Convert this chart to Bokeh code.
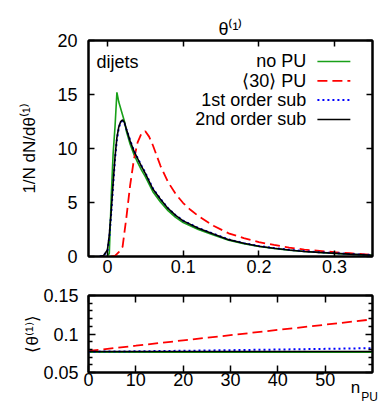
from bokeh.plotting import figure
from bokeh.models import FixedTicker, CustomJSTickFormatter, LinearAxis, Label, Range1d
from bokeh.layouts import column
from bokeh.embed import file_html
from bokeh.resources import INLINE

# ---------------- data ----------------
# top panel: distributions of theta^(1)
x_nopu = [0.0, 0.0025, 0.005, 0.0075, 0.010, 0.0125, 0.015, 0.02, 0.0225, 0.025, 0.03, 0.035, 0.04, 0.045,
          0.05, 0.06, 0.07, 0.08, 0.09, 0.10, 0.12, 0.14, 0.16, 0.18, 0.20, 0.22, 0.24, 0.26, 0.28, 0.30,
          0.32, 0.35]
y_nopu = [0.0, 0.3, 5.5, 9.5, 12.0, 15.2, 14.3, 13.1, 12.5, 11.6, 10.4, 9.45, 8.7, 8.0,
          7.4, 6.0, 5.05, 4.25, 3.62, 3.15, 2.5, 1.98, 1.5, 1.18, 0.92, 0.74, 0.58, 0.46, 0.37, 0.29,
          0.21, 0.11]

x_pu30 = [0.005, 0.01, 0.015, 0.02, 0.025, 0.03, 0.035, 0.04, 0.045, 0.05, 0.055, 0.06, 0.07, 0.08, 0.09,
          0.10, 0.11, 0.12, 0.14, 0.16, 0.18, 0.20, 0.22, 0.24, 0.26, 0.28, 0.30, 0.32, 0.35]
y_pu30 = [0.0, 0.05, 0.4, 0.9, 3.6, 6.6, 9.0, 10.6, 11.4, 11.6, 11.1, 10.3, 8.4, 6.9, 5.8,
          4.95, 4.3, 3.75, 2.85, 2.15, 1.7, 1.33, 1.07, 0.83, 0.64, 0.52, 0.40, 0.30, 0.15]

x_sub1 = [-0.01, -0.005, 0.0, 0.0025, 0.005, 0.0075, 0.01, 0.0125, 0.015, 0.0175, 0.02, 0.0225, 0.025,
          0.03, 0.035, 0.04, 0.045, 0.05, 0.06, 0.07, 0.08, 0.09, 0.10, 0.12, 0.14, 0.16, 0.18, 0.20,
          0.22, 0.24, 0.26, 0.28, 0.30, 0.32, 0.35]
y_sub1 = [0.0, 0.1, 0.5, 1.8, 4.0, 6.6, 9.0, 10.8, 11.9, 12.45, 12.55, 12.35, 11.8,
          10.75, 9.8, 9.1, 8.4, 7.75, 6.3, 5.33, 4.48, 3.82, 3.32, 2.64, 2.1, 1.58, 1.24, 0.97,
          0.78, 0.62, 0.49, 0.39, 0.31, 0.23, 0.13]

x_sub2 = [-0.01, -0.005, 0.0, 0.0025, 0.005, 0.0075, 0.01, 0.0125, 0.015, 0.0175, 0.02, 0.0225, 0.025,
          0.03, 0.035, 0.04, 0.045, 0.05, 0.06, 0.07, 0.08, 0.09, 0.10, 0.12, 0.14, 0.16, 0.18, 0.20,
          0.22, 0.24, 0.26, 0.28, 0.30, 0.32, 0.35]
y_sub2 = [0.0, 0.1, 0.6, 2.0, 4.2, 6.8, 9.2, 11.0, 12.0, 12.5, 12.65, 12.4, 11.8,
          10.7, 9.75, 9.05, 8.35, 7.7, 6.25, 5.3, 4.45, 3.8, 3.3, 2.62, 2.08, 1.56, 1.22, 0.95,
          0.76, 0.60, 0.47, 0.38, 0.30, 0.22, 0.12]

# bottom panel: mean theta^(1) vs n_PU
npu = [0, 10, 20, 30, 40, 50, 60]
mean_nopu = [0.0765, 0.0765, 0.0765, 0.0765, 0.0765, 0.0765, 0.0765]
mean_pu = [0.078, 0.0848, 0.0917, 0.0985, 0.1053, 0.1121, 0.119]
mean_sub1 = [0.0770, 0.0775, 0.0782, 0.0790, 0.0798, 0.0807, 0.0816]
mean_sub2 = [0.0773, 0.0773, 0.0773, 0.0773, 0.0773, 0.0773, 0.0773]

top_xticks = [0, 0.1, 0.2, 0.3]
top_yticks = [0, 5, 10, 15, 20]
bot_xticks = [0, 10, 20, 30, 40, 50]
bot_yticks = [0.05, 0.1, 0.15]
bot_yminor = [0.06, 0.07, 0.08, 0.09, 0.11, 0.12, 0.13, 0.14]

legend_labels = ["no PU", "\u27e830\u27e9 PU", "1st order sub", "2nd order sub"]

# ---------------- style ----------------
FONT = "Liberation Sans"
FS = "18px"
GREEN = "#18a018"
RED = "#ff0000"
BLUE = "#0000ff"
BLACK = "#000000"

fmt = CustomJSTickFormatter(code="return tick.toString();")
empty = CustomJSTickFormatter(code="return '';")


def style_axis(ax, ticks, tick_len, minor=None, minor_len=0):
    ax.ticker = FixedTicker(ticks=ticks, minor_ticks=minor or [])
    ax.major_tick_in = tick_len
    ax.major_tick_out = 0
    ax.major_tick_line_width = 1.5
    ax.major_tick_line_color = "black"
    if minor:
        ax.minor_tick_in = minor_len
        ax.minor_tick_out = 0
        ax.minor_tick_line_width = 1.5
        ax.minor_tick_line_color = "black"
    else:
        ax.minor_tick_line_color = None
    ax.axis_line_width = 2
    ax.axis_line_color = "black"
    ax.major_label_text_font = FONT
    ax.major_label_text_font_size = FS
    ax.major_label_text_color = "black"
    ax.axis_label_text_font = FONT
    ax.axis_label_text_font_size = "17px"
    ax.axis_label_text_font_style = "normal"
    ax.axis_label_text_color = "black"


def mirror(p, loc, ticks, tick_len, minor=None, minor_len=0):
    ax = LinearAxis(formatter=empty)
    style_axis(ax, ticks, tick_len, minor, minor_len)
    ax.major_label_standoff = 0
    ax.major_label_text_font_size = "1px"
    p.add_layout(ax, loc)
    return ax


def text_axis(p, loc, tick, text, size, standoff):
    # an axis with no line and no ticks that only carries one piece of text
    ax = LinearAxis(ticker=FixedTicker(ticks=[tick]),
                    formatter=CustomJSTickFormatter(code="return %r;" % text))
    ax.axis_line_color = None
    ax.major_tick_line_color = None
    ax.minor_tick_line_color = None
    ax.major_tick_in = 0
    ax.major_tick_out = 0
    ax.minor_tick_in = 0
    ax.minor_tick_out = 0
    ax.major_label_standoff = standoff
    ax.major_label_text_font = FONT
    ax.major_label_text_font_size = size
    ax.major_label_text_color = "black"
    p.add_layout(ax, loc)
    return ax


# ---------------- top panel ----------------
xr = (-0.025, 0.35)
yr = (0, 20)
top = figure(width=380, height=282, x_range=Range1d(*xr), y_range=Range1d(*yr),
             output_backend="svg", toolbar_location=None,
             min_border_left=88, min_border_right=8, min_border_top=40, min_border_bottom=26)
top.grid.visible = False
top.outline_line_color = "black"
top.outline_line_width = 2

style_axis(top.xaxis[0], top_xticks, 6)
top.xaxis[0].formatter = fmt
top.xaxis[0].major_label_standoff = 3
style_axis(top.yaxis[0], top_yticks, 6)
top.yaxis[0].formatter = fmt
top.yaxis[0].major_label_standoff = 11
top.yaxis[0].axis_label = "1/N dN/d\u03b8\u207d\u00b9\u207e"
top.yaxis[0].axis_label_standoff = 15
tax = mirror(top, "above", top_xticks, 6)
tax.axis_label = "\u03b8\u207d\u00b9\u207e"
tax.axis_label_text_font_size = FS
tax.axis_label_standoff = 2
mirror(top, "right", top_yticks, 6)

top.line(x_nopu, y_nopu, line_color=GREEN, line_width=1.6)
top.line(x_pu30, y_pu30, line_color=RED, line_width=1.8, line_dash="10 5")
top.line(x_sub1, y_sub1, line_color=BLUE, line_width=2, line_dash="2 3")
top.line(x_sub2, y_sub2, line_color=BLACK, line_width=1.6)

xw = xr[1] - xr[0]
yh = yr[1] - yr[0]
# dijets
top.add_layout(Label(x=xr[0] + 0.028 * xw, y=yr[0] + 0.9 * yh, text="dijets",
                     text_font=FONT, text_font_size=FS, text_align="left",
                     text_baseline="middle", text_color="black"))

# legend (text then sample, gnuplot-style)
leg_styles = [dict(line_color=GREEN, line_width=1.6),
              dict(line_color=RED, line_width=1.8, line_dash="10 5"),
              dict(line_color=BLUE, line_width=2, line_dash="2 3"),
              dict(line_color=BLACK, line_width=1.6)]
for i, (lab, st) in enumerate(zip(legend_labels, leg_styles)):
    yy = yr[0] + (0.903 - 0.0895 * i) * yh
    top.add_layout(Label(x=xr[0] + 0.767 * xw, y=yy, text=lab, text_font=FONT,
                         text_font_size=FS, text_align="right", text_baseline="middle",
                         text_color="black"))
    top.line([xr[0] + 0.806 * xw, xr[0] + 0.922 * xw], [yy, yy], **st)

# ---------------- bottom panel ----------------
bxr = (0, 60)
byr = (0.05, 0.15)
bot = figure(width=380, height=124, x_range=Range1d(*bxr), y_range=Range1d(*byr),
             output_backend="svg", toolbar_location=None,
             min_border_left=88, min_border_right=8, min_border_top=13, min_border_bottom=33)
bot.grid.visible = False
bot.outline_line_color = "black"
bot.outline_line_width = 2

style_axis(bot.xaxis[0], bot_xticks, 7)
bot.xaxis[0].formatter = fmt
bot.xaxis[0].major_label_standoff = 0
style_axis(bot.yaxis[0], bot_yticks, 7, bot_yminor, 4)
bot.yaxis[0].formatter = fmt
bot.yaxis[0].major_label_standoff = 10
bot.yaxis[0].axis_label = "\u27e8\u03b8\u207d\u00b9\u207e\u27e9"
bot.yaxis[0].axis_label_standoff = -2
mirror(bot, "above", bot_xticks, 7)
mirror(bot, "right", bot_yticks, 7, bot_yminor, 4)

# x-axis title n_PU at the right end, below the tick labels
text_axis(bot, "below", 56.4, "n", "17px", -11)
text_axis(bot, "below", 59.4, "PU", "12px", -10)

bot.line(npu, mean_nopu, line_color=GREEN, line_width=1.6)
bot.line(npu, mean_pu, line_color=RED, line_width=1.8, line_dash="10 5")
bot.line(npu, mean_sub1, line_color=BLUE, line_width=2, line_dash="2 3")
bot.line(npu, mean_sub2, line_color=BLACK, line_width=1.6)

layout = column(top, bot, spacing=0)
open("out.html", "w").write(file_html(layout, INLINE))
